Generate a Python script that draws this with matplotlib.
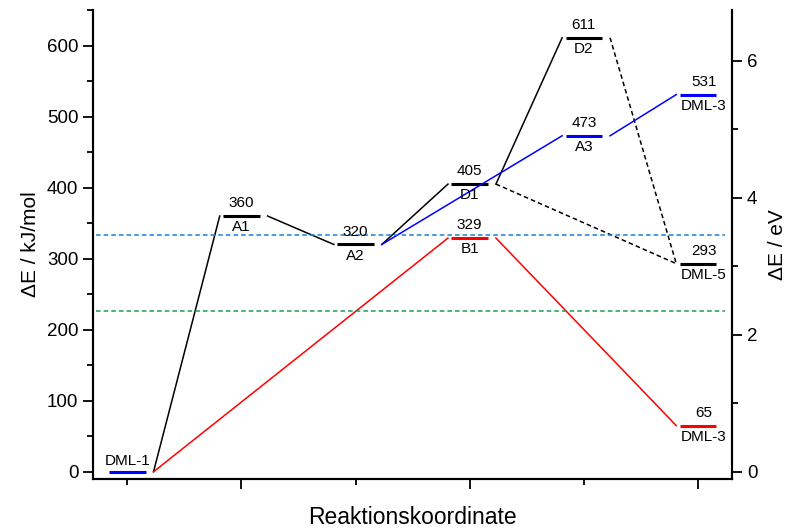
import matplotlib.pyplot as plt
from matplotlib.ticker import MultipleLocator

plt.rcParams['font.family'] = ['Liberation Sans', 'DejaVu Sans']

# energy levels (kJ/mol) at reaction coordinate positions
names = ["DML-1", "A1", "A2", "D1", "B1", "D2", "A3", "DML-3", "DML-5", "DML-3"]
xpos = [1, 2, 3, 4, 4, 5, 5, 6, 6, 6]
energies = [0, 360, 320, 405, 329, 611, 473, 531, 293, 65]
level_colors = ["blue", "black", "black", "black", "red", "black", "blue", "blue", "black", "red"]
show_value = [False, True, True, True, True, True, True, True, True, True]

# connections between levels (index from, index to, colour, style)
links = [
    (0, 1, "black", "-"),
    (1, 2, "black", "-"),
    (2, 3, "black", "-"),
    (3, 5, "black", "-"),
    (5, 8, "black", "--"),
    (3, 8, "black", "--"),
    (2, 6, "blue", "-"),
    (6, 7, "blue", "-"),
    (0, 4, "red", "-"),
    (4, 9, "red", "-"),
]

# reference energies (kJ/mol)
ref_lines = [334, 226]
ref_colors = ["#1a7fd6", "#1f9a55"]

KJ_PER_EV = 96.485

fig = plt.figure(figsize=(7.95, 5.28), dpi=100)
ax = fig.add_axes([0.117, 0.093, 0.804, 0.888])

hw = 0.16
for x, e, c in zip(xpos, energies, level_colors):
    ax.plot([x - hw, x + hw], [e, e], color=c, lw=2.2, solid_capstyle="butt")

for i, j, c, ls in links:
    x0 = xpos[i] + 0.23
    x1 = xpos[j] - 0.19
    ax.plot([x0, x1], [energies[i], energies[j]], color=c, ls=ls, lw=1.1,
            dashes=(3, 2) if ls == "--" else (None, None))

for y, c in zip(ref_lines, ref_colors):
    ax.plot([0.73, 6.24], [y, y], color=c, lw=1.1, dashes=(3, 2))

for n, x, e, sv in zip(names, xpos, energies, show_value):
    dx = 0.05 if x == 6 else 0
    if sv:
        ax.text(x + dx, e + 8, str(e), ha="center", va="bottom", fontsize=11)
        ax.text(x + dx, e - 6, n, ha="center", va="top", fontsize=11)
    else:
        ax.text(x, e + 5, n, ha="center", va="bottom", fontsize=11)

ax.set_xlim(0.7, 6.3)
ax.set_ylim(-10, 650)
ax.xaxis.set_major_locator(MultipleLocator(2))
ax.xaxis.set_minor_locator(MultipleLocator(1))
ax.set_xticklabels([])
ax.yaxis.set_major_locator(MultipleLocator(100))
ax.yaxis.set_minor_locator(MultipleLocator(50))
ax.tick_params(axis="x", which="major", direction="out", length=7, width=1.3)
ax.tick_params(axis="x", which="minor", direction="out", length=4, width=1.3)
ax.tick_params(axis="y", which="major", direction="out", length=7, width=1.3, labelsize=13.5)
ax.tick_params(axis="y", which="minor", direction="out", length=4, width=1.3)
ax.spines["top"].set_visible(False)
for s in ax.spines.values():
    s.set_linewidth(1.5)

ax.set_ylabel("ΔE / kJ/mol", fontsize=15, labelpad=5)
ax.set_xlabel("Reaktionskoordinate", fontsize=16.5, labelpad=9)

ax2 = ax.twinx()
ax2.set_ylim(-10 / KJ_PER_EV, 650 / KJ_PER_EV)
ax2.yaxis.set_major_locator(MultipleLocator(2))
ax2.yaxis.set_minor_locator(MultipleLocator(1))
ax2.tick_params(axis="y", which="major", direction="out", length=7, width=1.3, labelsize=13.5)
ax2.tick_params(axis="y", which="minor", direction="out", length=4, width=1.3)
ax2.spines["top"].set_visible(False)
for s in ax2.spines.values():
    s.set_linewidth(1.5)
ax2.set_ylabel("ΔE / eV", fontsize=15, labelpad=8)

fig.savefig("out.png", dpi=100)
